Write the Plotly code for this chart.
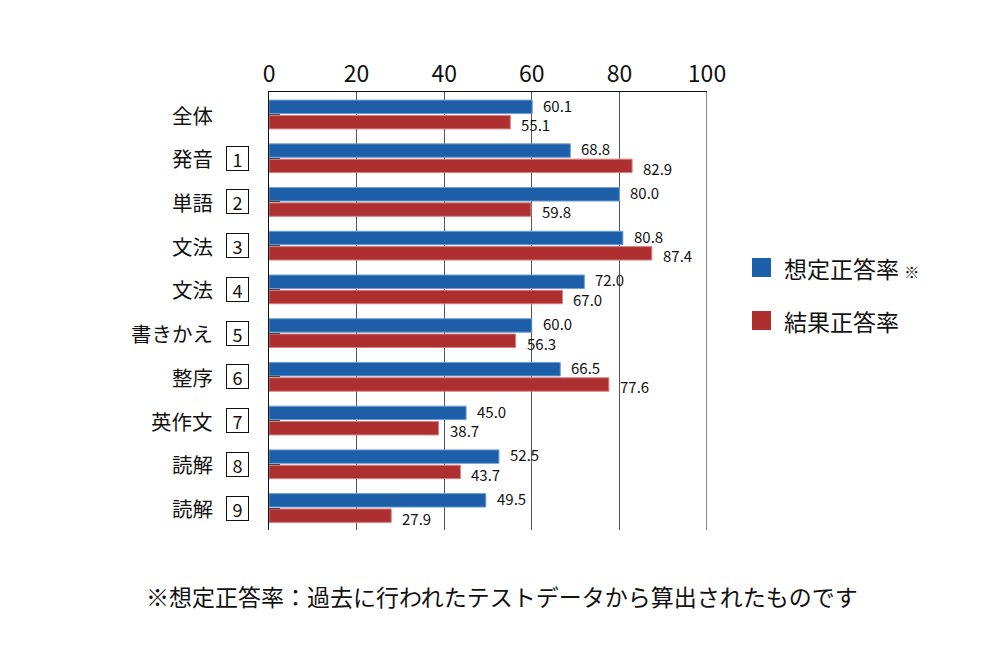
import plotly.graph_objects as go

categories = ["全体", "発音", "単語", "文法", "文法", "書きかえ", "整序", "英作文", "読解", "読解"]
numbers = ["", "1", "2", "3", "4", "5", "6", "7", "8", "9"]
assumed = [60.1, 68.8, 80.0, 80.8, 72.0, 60.0, 66.5, 45.0, 52.5, 49.5]
actual = [55.1, 82.9, 59.8, 87.4, 67.0, 56.3, 77.6, 38.7, 43.7, 27.9]
series_names = ["想定正答率", "結果正答率"]
x_ticks = [0, 20, 40, 60, 80, 100]
footnote = "※想定正答率：過去に行われたテストデータから算出されたものです"

BLUE = "#1c5ea8"
RED = "#ae2f2f"
FONT = "Noto Sans CJK JP"

ids = [f"r{i}" for i in range(len(categories))]

OFF = 8  # page body margin offset
W, H = 1000, 660
# target screen pixels of plot area
SL, SR, ST, SB = 269, 707, 92, 530
L = SL - OFF
T = ST - OFF
R = W - (SR - OFF)
B = H - (SB - OFF)
pw = SR - SL
ph = SB - ST

def px2x(px):
    return (px - SL) / pw

def py2y(py):
    return (SB - py) / ph

fig = go.Figure()
for vals, name, col, lc in [(assumed, series_names[0], BLUE, "#6f9fd6"), (actual, series_names[1], RED, "#d98080")]:
    fig.add_trace(go.Bar(
        y=ids, x=vals, orientation="h", name=name,
        marker=dict(color=col, line=dict(color=lc, width=1)),
        showlegend=False,
    ))

annotations = []
# value labels next to bar ends
for vals, ysh in [(assumed, 9.5), (actual, -10)]:
    for cid, v in zip(ids, vals):
        annotations.append(dict(x=v, xref="x", y=cid, yref="y", text=f"{v:.1f}",
                                xanchor="left", yanchor="middle", xshift=9, yshift=ysh,
                                showarrow=False,
                                font=dict(size=15, color="#111", family=FONT)))

for cid, cat, num in zip(ids, categories, numbers):
    annotations.append(dict(x=px2x(215), xref="paper", y=cid, yref="y", text=cat,
                            xanchor="right", yanchor="middle", showarrow=False,
                            font=dict(size=20.5, color="#111", family=FONT)))
    if num:
        annotations.append(dict(x=px2x(237), xref="paper", y=cid, yref="y", text=num,
                                xanchor="center", yanchor="middle", showarrow=False,
                                bordercolor="#111", borderwidth=1, borderpad=1,
                                width=19, height=21,
                                font=dict(size=18, color="#111", family=FONT)))

shapes = [dict(type="line", xref="x", yref="paper", x0=100, x1=100, y0=0, y1=1,
               line=dict(color="#111", width=1))]
legend_items = [(series_names[0] + " <span style='font-size:15px'>※</span>", BLUE, 268),
                (series_names[1], RED, 321)]
for txt, col, cy in legend_items:
    shapes.append(dict(type="rect", xref="paper", yref="paper",
                       x0=px2x(752), x1=px2x(771), y0=py2y(cy + 9), y1=py2y(cy - 10),
                       fillcolor=col, line=dict(width=0)))
    annotations.append(dict(x=px2x(782), xref="paper", y=py2y(cy), yref="paper", text=txt,
                            xanchor="left", yanchor="middle", showarrow=False,
                            font=dict(size=23, color="#111", family=FONT)))

annotations.append(dict(x=px2x(502), xref="paper", y=py2y(596), yref="paper", text=footnote,
                        xanchor="center", yanchor="middle", showarrow=False,
                        font=dict(size=23, color="#111", family=FONT)))

fig.update_layout(
    width=W, height=H,
    margin=dict(l=L, r=R, t=T, b=B),
    paper_bgcolor="white", plot_bgcolor="white",
    barmode="group", bargap=0.3, bargroupgap=0.12,
    font=dict(family=FONT, color="#111"),
    annotations=annotations, shapes=shapes,
    xaxis=dict(range=[0, 100], side="top", tickvals=x_ticks, showgrid=True,
               gridcolor="#555", gridwidth=1, showline=True, linecolor="#111", linewidth=1,
               zeroline=False, ticks="", tickfont=dict(size=23, color="#111", family=FONT)),
    yaxis=dict(categoryorder="array", categoryarray=ids, autorange="reversed",
               showticklabels=False, ticks="inside", ticklen=11, tickcolor="#444",
               showline=True, linecolor="#111", linewidth=1, showgrid=False),
)

fig.write_html("out.html")
